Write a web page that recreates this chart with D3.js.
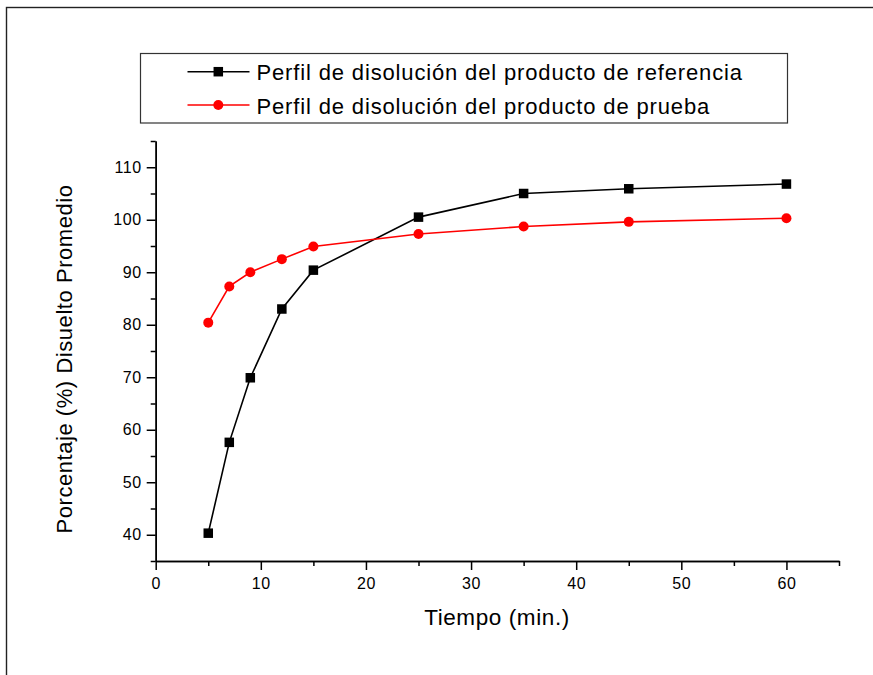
<!DOCTYPE html>
<html>
<head>
	<meta charset="utf-8">
	<title>Perfil de disolución</title>
	<script src="https://d3js.org/d3.v7.min.js"></script>
	<style type="text/css">
		body {
			margin: 0;
			background: white;
			overflow: hidden;
		}
		text {
			font-family: 'Liberation Sans', Arial, sans-serif;
			fill: black;
		}
		.axis path, .axis line {
			stroke: black;
			stroke-width: 1.5px;
		}
	</style>
</head>
<body>
<div id="chart"></div>
<script type="text/javascript">

// data
var tiempo = [5, 7, 9, 12, 15, 25, 35, 45, 60];
var referencia = [40.3, 57.6, 69.9, 83.0, 90.4, 100.5, 105.0, 105.9, 106.8];
var prueba = [80.4, 87.3, 90.0, 92.5, 94.9, 97.3, 98.7, 99.6, 100.3];

var xTicks = [0, 10, 20, 30, 40, 50, 60];
var xMinor = [5, 15, 25, 35, 45, 55, 65];
var yTicks = [40, 50, 60, 70, 80, 90, 100, 110];
var yMinor = [35, 45, 55, 65, 75, 85, 95, 105, 115];

var seriesNames = ["Perfil de disolución del producto de referencia",
	"Perfil de disolución del producto de prueba"];
var seriesColors = ["black", "#ff0000"];

var width = 873, height = 675;

var svg = d3.select("#chart").append("svg")
	.attr("width", width)
	.attr("height", height);

// outer frame (runs off the right and bottom of the picture)
svg.append("rect")
	.attr("x", 6.5).attr("y", 7.5)
	.attr("width", 1000).attr("height", 1000)
	.attr("fill", "none")
	.attr("stroke", "#222")
	.attr("stroke-width", 1.4);

var x = d3.scaleLinear().domain([0, 65]).range([155.7, 839]);
var y = d3.scaleLinear().domain([35, 115]).range([561, 141]);

// minor ticks first, then major axes on top
svg.append("g").attr("class", "axis")
	.attr("transform", "translate(0,561)")
	.call(d3.axisBottom(x).tickValues(xMinor).tickSize(5).tickSizeOuter(0).tickFormat(""));
svg.append("g").attr("class", "axis")
	.attr("transform", "translate(155.7,0)")
	.call(d3.axisLeft(y).tickValues(yMinor).tickSize(5).tickSizeOuter(0).tickFormat(""));

var xAxis = svg.append("g").attr("class", "axis")
	.attr("transform", "translate(0,561)")
	.call(d3.axisBottom(x).tickValues(xTicks).tickSize(9).tickSizeOuter(0).tickPadding(6));
xAxis.selectAll("text")
	.attr("dy", "0.71em").attr("y", 17)
	.style("font-family", "'Liberation Sans', Arial, sans-serif")
	.style("font-size", "16px")
	.style("letter-spacing", "0.6px");

var yAxis = svg.append("g").attr("class", "axis")
	.attr("transform", "translate(155.7,0)")
	.call(d3.axisLeft(y).tickValues(yTicks).tickSize(9).tickSizeOuter(0).tickPadding(6));
yAxis.selectAll("text")
	.attr("x", -14)
	.style("font-family", "'Liberation Sans', Arial, sans-serif")
	.style("font-size", "16px")
	.style("letter-spacing", "0.6px");

// axis titles
svg.append("text")
	.attr("x", 497).attr("y", 625)
	.attr("text-anchor", "middle")
	.style("font-size", "22.5px")
	.style("letter-spacing", "0.6px")
	.text("Tiempo (min.)");

svg.append("text")
	.attr("transform", "translate(72,359) rotate(-90)")
	.attr("text-anchor", "middle")
	.style("font-size", "22px")
	.style("letter-spacing", "0.55px")
	.text("Porcentaje (%) Disuelto Promedio");

// lines
var line = d3.line()
	.x(function(d) { return x(d[0]); })
	.y(function(d) { return y(d[1]); });

var refData = tiempo.map(function(t, i) { return [t, referencia[i]]; });
var pruData = tiempo.map(function(t, i) { return [t, prueba[i]]; });

svg.append("path").datum(refData)
	.attr("d", line)
	.attr("fill", "none")
	.attr("stroke", seriesColors[0])
	.attr("stroke-width", 1.6);

svg.append("path").datum(pruData)
	.attr("d", line)
	.attr("fill", "none")
	.attr("stroke", seriesColors[1])
	.attr("stroke-width", 1.6);

var sq = 9.5;
svg.selectAll("rect.ref").data(refData).enter()
	.append("rect").attr("class", "ref")
	.attr("x", function(d) { return x(d[0]) - sq / 2; })
	.attr("y", function(d) { return y(d[1]) - sq / 2; })
	.attr("width", sq).attr("height", sq)
	.attr("fill", seriesColors[0]);

svg.selectAll("circle.pru").data(pruData).enter()
	.append("circle").attr("class", "pru")
	.attr("cx", function(d) { return x(d[0]); })
	.attr("cy", function(d) { return y(d[1]); })
	.attr("r", 5)
	.attr("fill", seriesColors[1]);

// legend
var legend = svg.append("g");
legend.append("rect")
	.attr("x", 140.5).attr("y", 53.5)
	.attr("width", 647).attr("height", 69.5)
	.attr("fill", "white")
	.attr("stroke", "#333")
	.attr("stroke-width", 1.2);

var rowsY = [71.7, 105];
seriesNames.forEach(function(name, i) {
	var g = legend.append("g").attr("transform", "translate(0," + rowsY[i] + ")");
	g.append("line")
		.attr("x1", 187.5).attr("x2", 249.5)
		.attr("y1", 0).attr("y2", 0)
		.attr("stroke", seriesColors[i])
		.attr("stroke-width", 1.6);
	if (i === 0) {
		g.append("rect")
			.attr("x", 218.3 - sq / 2).attr("y", -sq / 2)
			.attr("width", sq).attr("height", sq)
			.attr("fill", seriesColors[i]);
	} else {
		g.append("circle")
			.attr("cx", 218.3).attr("cy", 0).attr("r", 5)
			.attr("fill", seriesColors[i]);
	}
	g.append("text")
		.attr("x", 256.5).attr("y", 8.5)
		.style("font-size", "22px")
		.style("letter-spacing", "0.85px")
		.text(name);
});

</script>
</body>
</html>
